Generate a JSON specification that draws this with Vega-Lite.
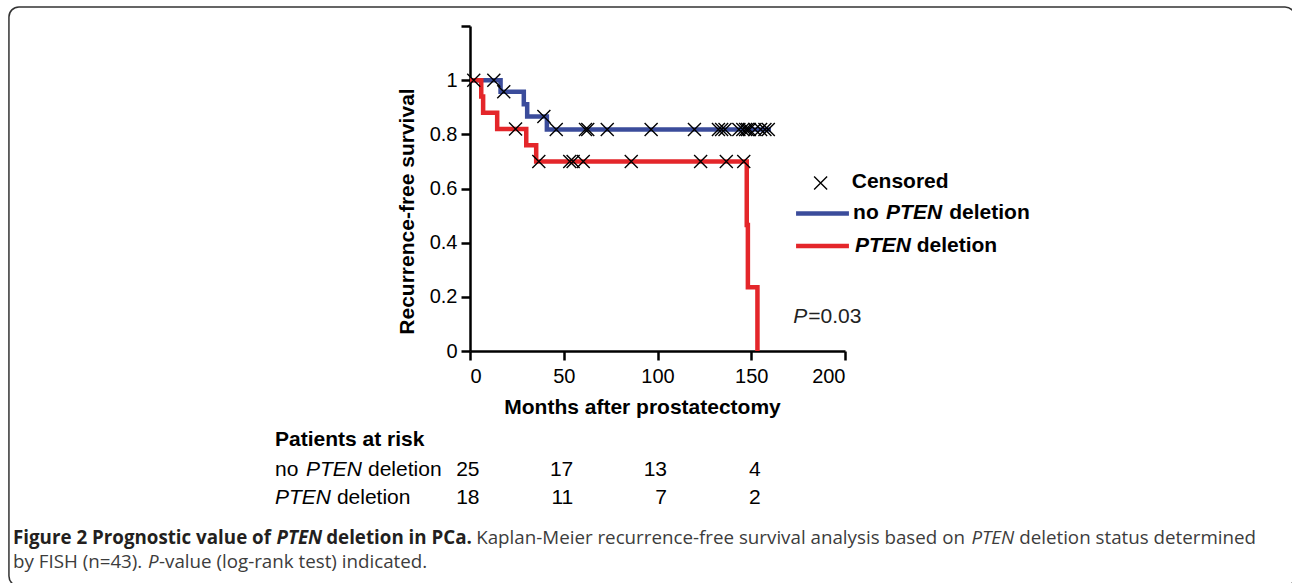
{
  "$schema": "https://vega.github.io/schema/vega-lite/v6.json",
  "width": 375,
  "height": 325,
  "autosize": {"type": "none"},
  "padding": {"left": 470, "top": 26, "right": 447, "bottom": 232},
  "background": "white",
  "config": {
    "view": {"stroke": null},
    "axis": {
      "grid": false,
      "domainColor": "black",
      "domainWidth": 2.5,
      "tickColor": "black",
      "tickWidth": 2.5,
      "tickSize": 9,
      "labelFont": "Liberation Sans",
      "labelFontSize": 20,
      "labelColor": "black",
      "titleFont": "Liberation Sans",
      "titleFontSize": 21,
      "titleFontWeight": "bold",
      "titleColor": "black"
    }
  },
  "datasets": {
    "curves": [
      {"group": "no PTEN deletion", "t": 0, "s": 1},
      {"group": "no PTEN deletion", "t": 16.3, "s": 0.957},
      {"group": "no PTEN deletion", "t": 28.7, "s": 0.911},
      {"group": "no PTEN deletion", "t": 30.5, "s": 0.866},
      {"group": "no PTEN deletion", "t": 41, "s": 0.818},
      {"group": "no PTEN deletion", "t": 160.5, "s": 0.818},
      {"group": "PTEN deletion", "t": 0, "s": 1},
      {"group": "PTEN deletion", "t": 6, "s": 0.94},
      {"group": "PTEN deletion", "t": 7, "s": 0.88},
      {"group": "PTEN deletion", "t": 14.5, "s": 0.82},
      {"group": "PTEN deletion", "t": 30, "s": 0.76},
      {"group": "PTEN deletion", "t": 35.3, "s": 0.7},
      {"group": "PTEN deletion", "t": 147.6, "s": 0.465},
      {"group": "PTEN deletion", "t": 148.2, "s": 0.235},
      {"group": "PTEN deletion", "t": 153.3, "s": 0}
    ],
    "censored": [
      {"group": "no PTEN deletion", "t": 2, "s": 1},
      {"group": "no PTEN deletion", "t": 12.7, "s": 1},
      {"group": "no PTEN deletion", "t": 18, "s": 0.957},
      {"group": "no PTEN deletion", "t": 39.4, "s": 0.866},
      {"group": "no PTEN deletion", "t": 46, "s": 0.818},
      {"group": "no PTEN deletion", "t": 61.6, "s": 0.818},
      {"group": "no PTEN deletion", "t": 62.8, "s": 0.818},
      {"group": "no PTEN deletion", "t": 73.2, "s": 0.818},
      {"group": "no PTEN deletion", "t": 96.6, "s": 0.818},
      {"group": "no PTEN deletion", "t": 119.7, "s": 0.818},
      {"group": "no PTEN deletion", "t": 132.5, "s": 0.818},
      {"group": "no PTEN deletion", "t": 134.2, "s": 0.818},
      {"group": "no PTEN deletion", "t": 136, "s": 0.818},
      {"group": "no PTEN deletion", "t": 143.4, "s": 0.818},
      {"group": "no PTEN deletion", "t": 145.5, "s": 0.818},
      {"group": "no PTEN deletion", "t": 147, "s": 0.818},
      {"group": "no PTEN deletion", "t": 148, "s": 0.818},
      {"group": "no PTEN deletion", "t": 149, "s": 0.818},
      {"group": "no PTEN deletion", "t": 152, "s": 0.818},
      {"group": "no PTEN deletion", "t": 155, "s": 0.818},
      {"group": "no PTEN deletion", "t": 157.3, "s": 0.818},
      {"group": "no PTEN deletion", "t": 159.1, "s": 0.818},
      {"group": "PTEN deletion", "t": 24.3, "s": 0.82},
      {"group": "PTEN deletion", "t": 36.7, "s": 0.7},
      {"group": "PTEN deletion", "t": 53.2, "s": 0.7},
      {"group": "PTEN deletion", "t": 55, "s": 0.7},
      {"group": "PTEN deletion", "t": 60.4, "s": 0.7},
      {"group": "PTEN deletion", "t": 86, "s": 0.7},
      {"group": "PTEN deletion", "t": 123, "s": 0.7},
      {"group": "PTEN deletion", "t": 136.7, "s": 0.7},
      {"group": "PTEN deletion", "t": 146, "s": 0.7}
    ],
    "risk": [
      {"group": "no PTEN deletion", "time": 0, "n": 25},
      {"group": "no PTEN deletion", "time": 50, "n": 17},
      {"group": "no PTEN deletion", "time": 100, "n": 13},
      {"group": "no PTEN deletion", "time": 150, "n": 4},
      {"group": "PTEN deletion", "time": 0, "n": 18},
      {"group": "PTEN deletion", "time": 50, "n": 11},
      {"group": "PTEN deletion", "time": 100, "n": 7},
      {"group": "PTEN deletion", "time": 150, "n": 2}
    ]
  },
  "layer": [
    {
      "data": {"values": [{}]},
      "mark": {"type": "rect", "filled": false, "stroke": "#333333", "strokeWidth": 1.5, "cornerRadius": 10},
      "encoding": {
        "x": {"datum": -245.9, "scale": {"domain": [0, 200], "nice": false, "zero": false}},
        "x2": {"datum": 440},
        "y": {"datum": 1.2703, "scale": {"domain": [0, 1.2], "nice": false, "zero": false}},
        "y2": {"datum": -0.868}
      }
    },
    {
      "data": {"name": "curves"},
      "transform": [{"filter": "datum.group === 'no PTEN deletion'"}],
      "mark": {"type": "line", "interpolate": "step-after", "strokeWidth": 4.5, "color": "#3b4c9b"},
      "encoding": {
        "x": {
          "field": "t", "type": "quantitative",
          "scale": {"domain": [0, 200], "nice": false, "zero": false},
          "axis": {"values": [0, 50, 100, 150, 200], "title": "Months after prostatectomy", "labelPadding": 6, "titleX": 172, "titleY": 56, "titleBaseline": "middle", "titleAlign": "center"}
        },
        "y": {
          "field": "s", "type": "quantitative",
          "scale": {"domain": [0, 1.2], "nice": false, "zero": false},
          "axis": {"values": [0, 0.2, 0.4, 0.6, 0.8, 1, 1.2], "labelExpr": "datum.value > 1.1 ? '' : datum.value", "title": "Recurrence-free survival", "labelPadding": 4, "titleX": -63, "titleY": 185, "titleAngle": 270, "titleBaseline": "middle", "titleAlign": "center"}
        }
      }
    },
    {
      "data": {"name": "curves"},
      "transform": [{"filter": "datum.group === 'PTEN deletion'"}],
      "mark": {"type": "line", "interpolate": "step-after", "strokeWidth": 4.5, "color": "#e4262a"},
      "encoding": {
        "x": {"field": "t", "type": "quantitative"},
        "y": {"field": "s", "type": "quantitative"}
      }
    },
    {
      "data": {"name": "censored"},
      "mark": {"type": "point", "shape": "M-1,-1L1,1M-1,1L1,-1", "filled": false, "stroke": "black", "strokeWidth": 1.4, "size": 169, "opacity": 1},
      "encoding": {
        "x": {"field": "t", "type": "quantitative"},
        "y": {"field": "s", "type": "quantitative"}
      }
    },
    {
      "data": {"values": [{}]},
      "mark": {"type": "point", "shape": "M-1,-1L1,1M-1,1L1,-1", "filled": false, "stroke": "black", "strokeWidth": 1.4, "size": 169, "opacity": 1},
      "encoding": {"x": {"datum": 187.0}, "y": {"datum": 0.62}}
    },
    {
      "data": {"values": [{}]},
      "mark": {"type": "rule", "strokeWidth": 4.5, "color": "#3b4c9b"},
      "encoding": {"x": {"datum": 173.9}, "x2": {"datum": 202.1}, "y": {"datum": 0.508}}
    },
    {
      "data": {"values": [{}]},
      "mark": {"type": "rule", "strokeWidth": 4.5, "color": "#e4262a"},
      "encoding": {"x": {"datum": 173.9}, "x2": {"datum": 202.1}, "y": {"datum": 0.388}}
    },
    {
      "data": {"values": [{}]},
      "mark": {"type": "text", "text": "Censored", "align": "left", "baseline": "middle", "font": "Liberation Sans", "fontSize": 21, "fontWeight": "bold", "color": "black"},
      "encoding": {"x": {"datum": 203.6}, "y": {"datum": 0.623}}
    },
    {
      "data": {"values": [{}]},
      "mark": {"type": "text", "text": "no", "align": "left", "baseline": "middle", "font": "Liberation Sans", "fontSize": 21, "fontWeight": "bold", "color": "black"},
      "encoding": {"x": {"datum": 204.3}, "y": {"datum": 0.508}}
    },
    {
      "data": {"values": [{}]},
      "mark": {"type": "text", "text": "PTEN", "align": "left", "baseline": "middle", "font": "Liberation Sans", "fontSize": 21, "fontWeight": "bold", "fontStyle": "italic", "color": "black"},
      "encoding": {"x": {"datum": 221.9}, "y": {"datum": 0.508}}
    },
    {
      "data": {"values": [{}]},
      "mark": {"type": "text", "text": "deletion", "align": "left", "baseline": "middle", "font": "Liberation Sans", "fontSize": 21, "fontWeight": "bold", "color": "black"},
      "encoding": {"x": {"datum": 255.6}, "y": {"datum": 0.508}}
    },
    {
      "data": {"values": [{}]},
      "mark": {"type": "text", "text": "PTEN", "align": "left", "baseline": "middle", "font": "Liberation Sans", "fontSize": 21, "fontWeight": "bold", "fontStyle": "italic", "color": "black"},
      "encoding": {"x": {"datum": 205.3}, "y": {"datum": 0.388}}
    },
    {
      "data": {"values": [{}]},
      "mark": {"type": "text", "text": "deletion", "align": "left", "baseline": "middle", "font": "Liberation Sans", "fontSize": 21, "fontWeight": "bold", "color": "black"},
      "encoding": {"x": {"datum": 238.2}, "y": {"datum": 0.388}}
    },
    {
      "data": {"values": [{}]},
      "mark": {"type": "text", "text": "P", "align": "left", "baseline": "middle", "font": "Liberation Sans", "fontSize": 21, "fontStyle": "italic", "color": "#222222"},
      "encoding": {"x": {"datum": 172.4}, "y": {"datum": 0.1266}}
    },
    {
      "data": {"values": [{}]},
      "mark": {"type": "text", "text": "=0.03", "align": "left", "baseline": "middle", "font": "Liberation Sans", "fontSize": 21, "color": "#222222"},
      "encoding": {"x": {"datum": 180.4}, "y": {"datum": 0.1266}}
    },
    {
      "data": {"values": [{}]},
      "mark": {"type": "text", "text": "Patients at risk", "align": "left", "baseline": "middle", "font": "Liberation Sans", "fontSize": 21, "fontWeight": "bold", "color": "black"},
      "encoding": {"x": {"datum": -104}, "y": {"datum": -0.3275}}
    },
    {
      "data": {"values": [{}]},
      "mark": {"type": "text", "text": "no", "align": "left", "baseline": "middle", "font": "Liberation Sans", "fontSize": 21, "color": "black"},
      "encoding": {"x": {"datum": -104}, "y": {"datum": -0.4394}}
    },
    {
      "data": {"values": [{}]},
      "mark": {"type": "text", "text": "PTEN", "align": "left", "baseline": "middle", "font": "Liberation Sans", "fontSize": 21, "fontStyle": "italic", "color": "black"},
      "encoding": {"x": {"datum": -87.5}, "y": {"datum": -0.4394}}
    },
    {
      "data": {"values": [{}]},
      "mark": {"type": "text", "text": "deletion", "align": "left", "baseline": "middle", "font": "Liberation Sans", "fontSize": 21, "color": "black"},
      "encoding": {"x": {"datum": -54.4}, "y": {"datum": -0.4394}}
    },
    {
      "data": {"values": [{}]},
      "mark": {"type": "text", "text": "PTEN", "align": "left", "baseline": "middle", "font": "Liberation Sans", "fontSize": 21, "fontStyle": "italic", "color": "black"},
      "encoding": {"x": {"datum": -104}, "y": {"datum": -0.5428}}
    },
    {
      "data": {"values": [{}]},
      "mark": {"type": "text", "text": "deletion", "align": "left", "baseline": "middle", "font": "Liberation Sans", "fontSize": 21, "color": "black"},
      "encoding": {"x": {"datum": -71.0}, "y": {"datum": -0.5428}}
    },
    {
      "data": {"name": "risk"},
      "transform": [{"filter": "datum.group === 'no PTEN deletion'"}],
      "mark": {"type": "text", "align": "right", "baseline": "middle", "dx": 9.5, "font": "Liberation Sans", "fontSize": 21, "color": "black"},
      "encoding": {"x": {"field": "time", "type": "quantitative"}, "y": {"datum": -0.4394}, "text": {"field": "n", "type": "quantitative"}}
    },
    {
      "data": {"name": "risk"},
      "transform": [{"filter": "datum.group === 'PTEN deletion'"}],
      "mark": {"type": "text", "align": "right", "baseline": "middle", "dx": 9.5, "font": "Liberation Sans", "fontSize": 21, "color": "black"},
      "encoding": {"x": {"field": "time", "type": "quantitative"}, "y": {"datum": -0.5428}, "text": {"field": "n", "type": "quantitative"}}
    },
    {
      "data": {"values": [{}]},
      "mark": {"type": "text", "text": "Figure 2 Prognostic value of", "align": "left", "baseline": "alphabetic", "font": "Open Sans", "fontSize": 18.75, "fontWeight": "bold", "color": "#231f20"},
      "encoding": {"x": {"datum": -243.73}, "y": {"datum": -0.711}}
    },
    {
      "data": {"values": [{}]},
      "mark": {"type": "text", "text": "PTEN", "align": "left", "baseline": "alphabetic", "font": "Open Sans", "fontSize": 18.75, "fontWeight": "bold", "fontStyle": "italic", "color": "#231f20"},
      "encoding": {"x": {"datum": -103.2}, "y": {"datum": -0.711}}
    },
    {
      "data": {"values": [{}]},
      "mark": {"type": "text", "text": "deletion in PCa.", "align": "left", "baseline": "alphabetic", "font": "Open Sans", "fontSize": 18.75, "fontWeight": "bold", "color": "#231f20"},
      "encoding": {"x": {"datum": -76.69}, "y": {"datum": -0.711}}
    },
    {
      "data": {"values": [{}]},
      "mark": {"type": "text", "text": "Kaplan-Meier recurrence-free survival analysis based on", "align": "left", "baseline": "alphabetic", "font": "Open Sans", "fontSize": 18.75, "color": "#3c3c3c"},
      "encoding": {"x": {"datum": 3.31}, "y": {"datum": -0.711}}
    },
    {
      "data": {"values": [{}]},
      "mark": {"type": "text", "text": "PTEN", "align": "left", "baseline": "alphabetic", "font": "Open Sans", "fontSize": 18.75, "fontStyle": "italic", "color": "#3c3c3c"},
      "encoding": {"x": {"datum": 267.4}, "y": {"datum": -0.711}}
    },
    {
      "data": {"values": [{}]},
      "mark": {"type": "text", "text": "deletion status determined", "align": "left", "baseline": "alphabetic", "font": "Open Sans", "fontSize": 18.75, "color": "#3c3c3c"},
      "encoding": {"x": {"datum": 292.9}, "y": {"datum": -0.711}}
    },
    {
      "data": {"values": [{}]},
      "mark": {"type": "text", "text": "by FISH (n=43).", "align": "left", "baseline": "alphabetic", "font": "Open Sans", "fontSize": 18.75, "color": "#3c3c3c"},
      "encoding": {"x": {"datum": -243.73}, "y": {"datum": -0.8}}
    },
    {
      "data": {"values": [{}]},
      "mark": {"type": "text", "text": "P", "align": "left", "baseline": "alphabetic", "font": "Open Sans", "fontSize": 18.75, "fontStyle": "italic", "color": "#3c3c3c"},
      "encoding": {"x": {"datum": -171.68}, "y": {"datum": -0.8}}
    },
    {
      "data": {"values": [{}]},
      "mark": {"type": "text", "text": "-value (log-rank test) indicated.", "align": "left", "baseline": "alphabetic", "font": "Open Sans", "fontSize": 18.75, "color": "#3c3c3c"},
      "encoding": {"x": {"datum": -165.87}, "y": {"datum": -0.8}}
    }
  ]
}
